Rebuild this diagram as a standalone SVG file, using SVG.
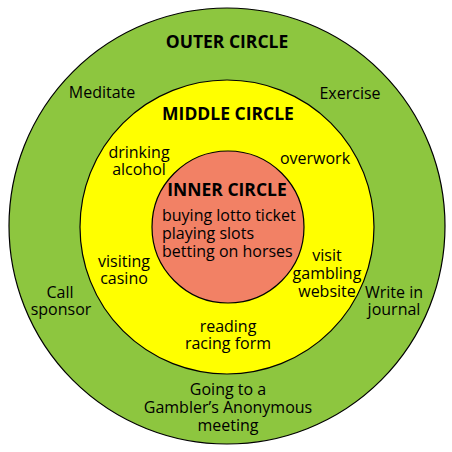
<svg xmlns="http://www.w3.org/2000/svg" width="452" height="452" viewBox="0 0 452 452">
<style>
text{font-family:"Open Sans","Noto Sans","DejaVu Sans",sans-serif;fill:#000;text-anchor:middle}
.t{font-size:16px}
.h{font-size:17.5px;font-weight:bold}
.s{text-anchor:start}
.ring{stroke:#000;stroke-width:1.2}
</style>
<rect width="452" height="452" fill="#fff"/>
<g id="outer">
<circle class="ring" cx="227" cy="226" r="218" fill="#8DC63F"/>
<text class="h" x="227" y="48">OUTER CIRCLE</text>
<text class="t" x="102" y="98">Meditate</text>
<text class="t" x="350" y="99">Exercise</text>
<text class="t" x="60" y="298">Call</text>
<text class="t" x="61" y="315">sponsor</text>
<text class="t" x="394" y="298">Write in</text>
<text class="t" x="394" y="315">journal</text>
<text class="t" x="228" y="395">Going to a</text>
<text class="t" x="228" y="413">Gambler’s Anonymous</text>
<text class="t" x="228" y="431">meeting</text>
</g>
<g id="middle">
<circle class="ring" cx="227" cy="227" r="147" fill="#FFFF00"/>
<text class="h" x="228" y="120">MIDDLE CIRCLE</text>
<text class="t" x="139" y="158">drinking</text>
<text class="t" x="139" y="175">alcohol</text>
<text class="t" x="315" y="164">overwork</text>
<text class="t" x="124" y="267">visiting</text>
<text class="t" x="124" y="284">casino</text>
<text class="t" x="327" y="261">visit</text>
<text class="t" x="327" y="279">gambling</text>
<text class="t" x="327" y="297">website</text>
<text class="t" x="228" y="332">reading</text>
<text class="t" x="228" y="349">racing form</text>
</g>
<g id="inner">
<circle class="ring" cx="228" cy="227" r="76" fill="#F28165"/>
<text class="h" x="227" y="196">INNER CIRCLE</text>
<text class="t s" x="162" y="221">buying lotto ticket</text>
<text class="t s" x="162" y="239">playing slots</text>
<text class="t s" x="162" y="257">betting on horses</text>
</g>
<g id="connectors"/>
</svg>
